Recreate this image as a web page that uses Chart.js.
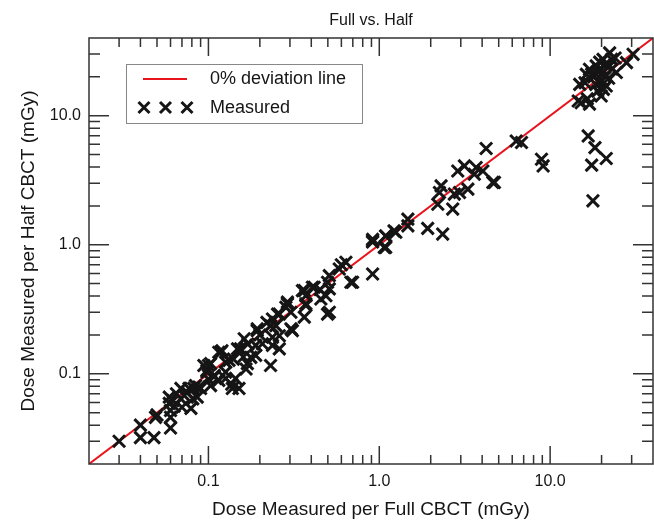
<!DOCTYPE html>
<html><head><meta charset="utf-8">
<script src="https://cdn.jsdelivr.net/npm/chart.js@4.4.0/dist/chart.umd.min.js"></script>
<style>html,body{margin:0;padding:0;background:#fff}#wrap{width:654px;height:521px}</style>
</head><body><div id="wrap"><canvas id="c" width="654" height="521"></canvas></div>
<script>
// Dose measured per full CBCT (mGy)
const fullDose = [
 0.03,0.04,0.04,0.048,0.049,0.05,0.06,0.059,0.059,0.06,0.06,0.063,0.069,0.069,0.07,0.079,0.081,0.075,0.082,0.094,0.098,0.1,0.108,0.103,0.115,0.118,0.09,0.086,0.065,0.062,0.072,0.077,0.088,
 0.372,0.364,0.31,0.29,0.26,0.248,0.237,0.26,0.231,0.193,0.207,0.189,0.162,0.154,0.169,0.144,0.12,0.132,0.126,0.103,0.098,0.108,0.138,0.084,0.151,0.126,0.126,0.166,0.177,0.189,0.193,0.237,0.26,0.231,0.148,0.115,0.1,0.137,0.2,0.22,0.17,0.14,0.16,
 1.25,1.09,1.07,0.914,0.914,0.638,0.583,0.682,0.51,0.498,0.51,0.416,0.364,0.455,0.372,0.498,0.304,0.29,0.284,0.254,0.237,0.304,0.487,0.406,0.355,0.372,0.51,0.698,0.914,0.6,0.45,
 4.22,4.62,4.04,3.69,3.6,3.15,2.88,3.3,2.95,2.75,2.3,2.25,2.2,2.69,2.35,1.92,1.47,1.47,1.22,1.09,0.914,1.09,6.33,6.8,8.9,9.1,4.72,
 16.7,18.3,21.3,17.5,17.8,30.6,28,22.3,22.9,20.4,18.6,17,16.3,20.4,22.3,24.4,19.5,21.3,19,19.9,14.9,14.6,15.2,17,18,19,20,17.5,16,21,24,19.5,18.5,20.5,22,23,20,21,16.5
];
// Dose measured per half CBCT (mGy)
const halfDose = [
 0.03,0.04,0.032,0.032,0.046,0.048,0.038,0.066,0.059,0.052,0.046,0.056,0.077,0.064,0.055,0.054,0.064,0.072,0.077,0.116,0.103,0.091,0.097,0.081,0.089,0.147,0.077,0.066,0.07,0.062,0.068,0.077,0.079,
 0.403,0.275,0.216,0.348,0.29,0.236,0.192,0.156,0.116,0.223,0.171,0.139,0.187,0.156,0.12,0.092,0.151,0.127,0.103,0.12,0.106,0.095,0.077,0.081,0.077,0.123,0.092,0.109,0.134,0.166,0.216,0.166,0.197,0.236,0.156,0.147,0.116,0.083,0.2,0.25,0.17,0.13,0.135,
 1.25,1.17,0.955,1.05,0.593,0.731,0.649,0.512,0.576,0.512,0.455,0.468,0.441,0.38,0.348,0.29,0.3,0.359,0.328,0.29,0.266,0.223,0.403,0.468,0.441,0.338,0.3,0.512,1.07,0.7,0.45,
 5.57,3.04,3.73,3.97,3.52,4.08,3.73,2.7,2.54,2.47,2.86,2.54,2.06,1.89,1.21,1.34,1.58,1.4,1.28,1.17,1.1,0.955,6.37,6.2,4.6,4.08,3.04,
 6.97,5.66,4.66,4.14,2.19,29.9,25.8,30.7,27.3,27.3,24.3,22.9,20.9,21.6,24.3,21.6,18,17,15.5,14.2,17.5,13,12.6,12.3,20,22,19,21,18,25,28,26,17.5,16,19.5,23,23,20,13.5
];
const lineEnds = [0.02, 40];
const axisMin = 0.02, axisMax = 40;
const majorTicks = [0.1, 1, 10];
const tickLabels = ['0.1', '1.0', '10.0'];
const minorTicks = [0.03,0.04,0.05,0.06,0.07,0.08,0.09,0.2,0.3,0.4,0.5,0.6,0.7,0.8,0.9,2,3,4,5,6,7,8,9,20,30];

const FONT = "'Liberation Sans', Arial, Helvetica, sans-serif";
const INK = '#151515';
const RED = '#e8141c';

const measured = fullDose.map((x, i) => ({x, y: halfDose[i]}));
const diag = lineEnds.map(v => ({x: v, y: v}));

function drawX(ctx, cx, cy, r) {
  ctx.beginPath();
  ctx.moveTo(cx - r, cy - r); ctx.lineTo(cx + r, cy + r);
  ctx.moveTo(cx - r, cy + r); ctx.lineTo(cx + r, cy - r);
  ctx.stroke();
}

const framePlugin = {
  id: 'frame',
  afterDraw(chart) {
    const ctx = chart.ctx, a = chart.chartArea;
    const xs = chart.scales.x, ys = chart.scales.y;
    ctx.save();
    ctx.strokeStyle = '#333';
    ctx.lineWidth = 1.5;
    ctx.strokeRect(a.left, a.top, a.right - a.left, a.bottom - a.top);
    const tick = (vals, len, lenY) => {
      vals.forEach(v => {
        const px = xs.getPixelForValue(v);
        ctx.beginPath();
        ctx.moveTo(px, a.bottom); ctx.lineTo(px, a.bottom - len);
        ctx.moveTo(px, a.top); ctx.lineTo(px, a.top + len);
        const py = ys.getPixelForValue(v);
        ctx.moveTo(a.left, py); ctx.lineTo(a.left + lenY, py);
        ctx.moveTo(a.right, py); ctx.lineTo(a.right - lenY, py);
        ctx.stroke();
      });
    };
    tick(majorTicks, 18, 20);
    tick(minorTicks, 9, 11);

    // legend
    const lx = 126, ly = 64, lw = 236, lh = 59;
    ctx.fillStyle = '#fff';
    ctx.fillRect(lx, ly, lw, lh);
    ctx.strokeStyle = '#888';
    ctx.lineWidth = 1;
    ctx.strokeRect(lx + 0.5, ly + 0.5, lw, lh);
    ctx.strokeStyle = RED;
    ctx.lineWidth = 2;
    ctx.beginPath(); ctx.moveTo(143, 79); ctx.lineTo(187, 79); ctx.stroke();
    ctx.strokeStyle = INK;
    ctx.lineWidth = 3;
    [144, 165.5, 187].forEach(cx => drawX(ctx, cx, 107.5, 5.5));
    ctx.fillStyle = INK;
    ctx.font = '18px ' + FONT;
    ctx.textBaseline = 'middle';
    ctx.textAlign = 'left';
    ctx.fillText('0% deviation line', 210, 79);
    ctx.fillText('Measured', 210, 108);
    ctx.restore();
  }
};

const labelFor = v => {
  const i = majorTicks.findIndex(m => Math.abs(m - v) < 1e-9);
  return i >= 0 ? tickLabels[i] : '';
};

new Chart(document.getElementById('c'), {
  type: 'scatter',
  data: {
    datasets: [
      {
        label: 'Measured',
        data: measured,
        pointStyle: 'crossRot',
        pointRadius: 8.5,
        pointBorderWidth: 3,
        borderColor: INK,
        backgroundColor: 'rgba(0,0,0,0)',
        order: 0
      },
      {
        label: '0% deviation line',
        data: diag,
        showLine: true,
        pointRadius: 0,
        borderColor: RED,
        borderWidth: 2,
        order: 1
      }
    ]
  },
  options: {
    responsive: false,
    animation: false,
    devicePixelRatio: 1,
    events: [],
    layout: {autoPadding: false, padding: {left: 0, right: 1, top: 0, bottom: 0}},
    plugins: {
      legend: {display: false},
      tooltip: {enabled: false},
      title: {
        display: true,
        fullSize: false,
        text: 'Full vs. Half',
        color: INK,
        font: {family: FONT, size: 16, weight: 'normal'},
        padding: {top: 11, bottom: 7.8}
      }
    },
    scales: {
      x: {
        type: 'logarithmic',
        position: 'bottom',
        min: axisMin, max: axisMax,
        afterBuildTicks: s => { s.ticks = majorTicks.map(v => ({value: v, major: true})); },
        afterFit: s => { s.height = 57; s.paddingLeft = 0; s.paddingRight = 0; },
        grid: {display: false, drawTicks: false},
        border: {display: false},
        ticks: {
          callback: v => labelFor(v),
          color: INK, padding: 8, maxRotation: 0, autoSkip: false,
          font: {family: FONT, size: 16}
        },
        title: {
          display: true,
          text: 'Dose Measured per Full CBCT (mGy)',
          color: INK,
          font: {family: FONT, size: 19},
          padding: {top: 0, bottom: 0}
        }
      },
      y: {
        type: 'logarithmic',
        position: 'left',
        min: axisMin, max: axisMax,
        afterBuildTicks: s => { s.ticks = majorTicks.map(v => ({value: v, major: true})); },
        afterFit: s => { s.width = 89; s.paddingTop = 0; s.paddingBottom = 0; },
        grid: {display: false, drawTicks: false},
        border: {display: false},
        ticks: {
          callback: v => labelFor(v),
          color: INK, padding: 8, autoSkip: false,
          font: {family: FONT, size: 16}
        },
        title: {
          display: true,
          text: 'Dose Measured per Half CBCT (mGy)',
          color: INK,
          font: {family: FONT, size: 19},
          padding: {top: 17, bottom: 0}
        }
      }
    }
  },
  plugins: [framePlugin]
});
</script>
</body></html>
